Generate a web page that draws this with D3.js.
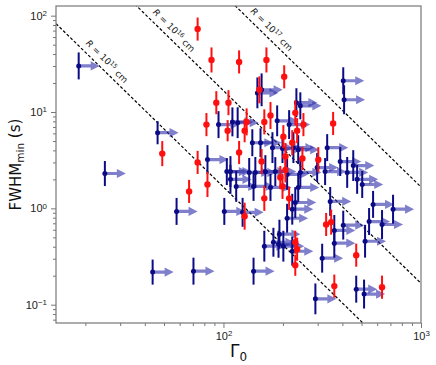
<!DOCTYPE html>
<html>
<head>
<meta charset="utf-8">
<script src="https://cdn.jsdelivr.net/npm/d3@7"></script>
<style>
  body { margin: 0; background: #fff; }
  svg { display: block; font-family: "DejaVu Sans", sans-serif; }
</style>
</head>
<body>
<svg id="chart" width="436" height="365"></svg>
<script>
// lower-limit sample (blue, arrows to the right)
const blueGamma = [18.5, 25.1, 46.4, 57.9, 43.8, 70.5, 83, 94.4, 111, 118,
    148.5, 156, 404, 408, 234, 245, 187, 215, 140, 154,
    177, 199, 226, 239, 335, 390, 454, 298, 104, 108.5,
    135, 145, 163, 183, 210, 245, 327, 423, 108.5, 116,
    142, 173, 239, 231, 347, 572, 722, 223, 210, 101,
    125, 546, 635, 404, 364, 521, 364, 192, 161, 179,
    190, 201, 223, 316, 142, 292, 470, 515, 475, 504];
const blueFwhm = [30.1, 2.30, 6.1, 0.93, 0.218, 0.223, 3.21, 7.4, 7.9, 7.75,
    15.8, 17.0, 21.1, 13.4, 12.5, 11.6, 8.1, 7.4, 4.8, 4.8,
    4.27, 4.17, 4.27, 4.07, 4.27, 3.06, 2.78, 2.65, 2.41, 2.41,
    2.36, 2.36, 2.41, 2.41, 2.25, 2.36, 2.41, 2.36, 2.0, 1.69,
    1.69, 1.65, 1.65, 1.15, 1.18, 1.10, 0.98, 0.98, 0.79, 0.93,
    0.91, 0.73, 0.68, 0.67, 0.59, 0.456, 0.435, 0.54, 0.405, 0.445,
    0.424, 0.405, 0.359, 0.304, 0.223, 0.115, 0.145, 0.129, 2.0, 1.77];
// error in dex
const blueErr = [0.14, 0.13, 0.12, 0.14, 0.13, 0.14, 0.15, 0.14, 0.15, 0.16,
    0.16, 0.17, 0.14, 0.15, 0.15, 0.14, 0.16, 0.15, 0.14, 0.15,
    0.16, 0.15, 0.16, 0.15, 0.14, 0.15, 0.16, 0.15, 0.14, 0.16,
    0.15, 0.16, 0.17, 0.15, 0.16, 0.15, 0.14, 0.16, 0.15, 0.16,
    0.15, 0.14, 0.15, 0.16, 0.15, 0.14, 0.15, 0.16, 0.15, 0.14,
    0.15, 0.14, 0.15, 0.15, 0.16, 0.17, 0.15, 0.15, 0.16, 0.15,
    0.14, 0.16, 0.15, 0.15, 0.14, 0.16, 0.14, 0.15, 0.15, 0.14];

// measured sample (red)
const redGamma = [74, 87, 120, 165, 203, 92, 106, 82, 105, 131,
    128, 49, 74, 67, 83, 120, 156, 152, 161, 173,
    231, 254, 236, 359, 201, 223, 206, 251, 302, 199,
    194, 161, 215, 128, 331, 351, 231, 236, 231, 470,
    364, 635, 206];
const redFwhm = [72.6, 34.7, 33.1, 34.7, 23.2, 12.5, 12.5, 7.4, 6.4, 7.9,
    6.4, 3.7, 3.0, 1.5, 1.77, 3.8, 3.06, 17.0, 7.9, 9.2,
    9.8, 7.4, 6.4, 7.6, 5.55, 4.8, 3.45, 3.3, 3.2, 1.69,
    2.09, 1.27, 1.27, 0.83, 0.68, 0.72, 0.445, 0.377, 0.257, 0.327,
    0.156, 0.152, 2.5];
const redErr = [0.12, 0.13, 0.12, 0.13, 0.12, 0.12, 0.13, 0.12, 0.11, 0.14,
    0.12, 0.13, 0.12, 0.12, 0.13, 0.12, 0.13, 0.14, 0.13, 0.14,
    0.13, 0.12, 0.13, 0.12, 0.12, 0.13, 0.14, 0.12, 0.13, 0.13,
    0.12, 0.13, 0.12, 0.14, 0.12, 0.13, 0.12, 0.12, 0.11, 0.12,
    0.12, 0.12, 0.13];

// radius lines  FWHM = R / (2 c Gamma^2)
const radii = [1e15, 1e16, 1e17];
const radiusExp = ["15", "16", "17"];
const radiusLabelGamma = [24, 52.4, 163.7];

const xMajor = [100, 1000];
const xMajorExp = ["2", "3"];
const yMajor = [0.1, 1, 10, 100];
const yMajorExp = ["\u22121", "0", "1", "2"];

const W = 436, H = 365;
const margin = { top: 6, right: 15, bottom: 42, left: 56 };
const iw = W - margin.left - margin.right;
const ih = H - margin.top - margin.bottom;
const cLight = 3e10;

const svg = d3.select("#chart");
const g = svg.append("g").attr("transform", `translate(${margin.left},${margin.top})`);

const x = d3.scaleLog().domain([14.2, 1000]).range([0, iw]);
const y = d3.scaleLog().domain([0.0646, 126]).range([ih, 0]);

svg.append("defs").append("clipPath").attr("id", "clip")
    .append("rect").attr("width", iw).attr("height", ih);

// minor ticks
const xMinor = [];
[10, 100].forEach(d => { for (let k = 2; k <= 9; k++) if (d * k >= 14.2) xMinor.push(d * k); });
const yMinor = [];
[0.01, 0.1, 1, 10].forEach(d => { for (let k = 2; k <= 9; k++) if (d * k >= 0.0646) yMinor.push(d * k); });

const tickColor = "#777";

function styleAxis(sel) {
    sel.select(".domain").remove();
    sel.selectAll(".tick line").attr("stroke", tickColor);
    sel.selectAll(".tick text").attr("fill", "#222").attr("font-size", 11);
}

function superLabels(sel, exps) {
    sel.selectAll(".tick text").each(function(d, i) {
        const t = d3.select(this);
        t.text(null);
        t.append("tspan").text("10");
        t.append("tspan").attr("dy", "-0.45em").attr("font-size", "0.72em").text(exps[i]);
    });
}

g.append("g").attr("transform", `translate(0,${ih})`)
    .call(d3.axisBottom(x).tickValues(xMinor).tickSize(3).tickFormat(""))
    .call(styleAxis);
const gx = g.append("g").attr("transform", `translate(0,${ih})`)
    .call(d3.axisBottom(x).tickValues(xMajor).tickSize(5).tickPadding(4).tickFormat(() => "x"))
    .call(styleAxis);
superLabels(gx, xMajorExp);

g.append("g")
    .call(d3.axisLeft(y).tickValues(yMinor).tickSize(3).tickFormat(""))
    .call(styleAxis);
const gy = g.append("g")
    .call(d3.axisLeft(y).tickValues(yMajor).tickSize(5).tickPadding(4).tickFormat(() => "x"))
    .call(styleAxis);
superLabels(gy, yMajorExp);

// dashed radius lines
const plot = g.append("g").attr("clip-path", "url(#clip)");
const gammaGrid = d3.range(0, 101).map(i => 14.2 * Math.pow(1000 / 14.2, i / 100));
const fwhmOf = (R, gam) => R / (2 * cLight * gam * gam);

radii.forEach((R, i) => {
    plot.append("path")
        .datum(gammaGrid)
        .attr("fill", "none")
        .attr("stroke", "#000")
        .attr("stroke-width", 1.2)
        .attr("stroke-dasharray", "3,2")
        .attr("d", d3.line().x(d => x(d)).y(d => y(fwhmOf(R, d))));

    const g0 = radiusLabelGamma[i];
    const px = x(g0), py = y(fwhmOf(R, g0));
    const ang = Math.atan2(y(fwhmOf(R, g0 * 2)) - py, x(g0 * 2) - px) * 180 / Math.PI;
    const t = g.append("text")
        .attr("transform", `translate(${px},${py}) rotate(${ang})`)
        .attr("y", -6)
        .attr("text-anchor", "middle")
        .attr("font-size", 9)
        .attr("fill", "#222");
    t.append("tspan").attr("font-style", "italic").text("R");
    t.append("tspan").text(" = 10");
    t.append("tspan").attr("dy", "-0.45em").attr("font-size", "0.7em").text(radiusExp[i]);
    t.append("tspan").attr("dy", "0.45em").text(" cm");
});

const blue = blueGamma.map((gm, i) => ({ g: gm, f: blueFwhm[i], e: blueErr[i] }));
const red = redGamma.map((gm, i) => ({ g: gm, f: redFwhm[i], e: redErr[i] }));

// lower-limit arrows
plot.append("g").selectAll("path").data(blue).join("path")
    .attr("transform", d => `translate(${x(d.g)},${y(d.f)})`)
    .attr("d", "M0,-1.6L12,-1.6L12,-4.6L21,0L12,4.6L12,1.6L0,1.6Z")
    .attr("fill", "#2a2aa8")
    .attr("fill-opacity", 0.6);

function errorbars(data, color, r) {
    const grp = plot.append("g");
    grp.selectAll("line").data(data).join("line")
        .attr("x1", d => x(d.g)).attr("x2", d => x(d.g))
        .attr("y1", d => y(d.f * Math.pow(10, d.e)))
        .attr("y2", d => y(d.f / Math.pow(10, d.e)))
        .attr("stroke", color)
        .attr("stroke-width", 2);
    grp.selectAll("circle").data(data).join("circle")
        .attr("cx", d => x(d.g)).attr("cy", d => y(d.f))
        .attr("r", r)
        .attr("fill", color);
}
errorbars(blue, "#0b0b85", 2.5);
errorbars(red, "#ff1010", 3.2);

// frame
g.append("rect").attr("width", iw).attr("height", ih)
    .attr("fill", "none").attr("stroke", tickColor).attr("stroke-width", 1.2);

// axis labels
const xl = svg.append("text")
    .attr("x", margin.left + iw / 2).attr("y", 357)
    .attr("text-anchor", "middle").attr("font-size", 17).attr("fill", "#111");
xl.append("tspan").text("\u0393");
xl.append("tspan").attr("dy", "0.3em").attr("font-size", "0.7em").text("0");

const yl = svg.append("text")
    .attr("transform", `translate(21,${margin.top + ih / 2}) rotate(-90)`)
    .attr("text-anchor", "middle").attr("font-size", 15).attr("fill", "#111");
yl.append("tspan").text("FWHM");
yl.append("tspan").attr("dy", "0.3em").attr("font-size", "0.7em").text("min");
yl.append("tspan").attr("dy", "-0.3em").text(" (s)");
</script>
</body>
</html>
